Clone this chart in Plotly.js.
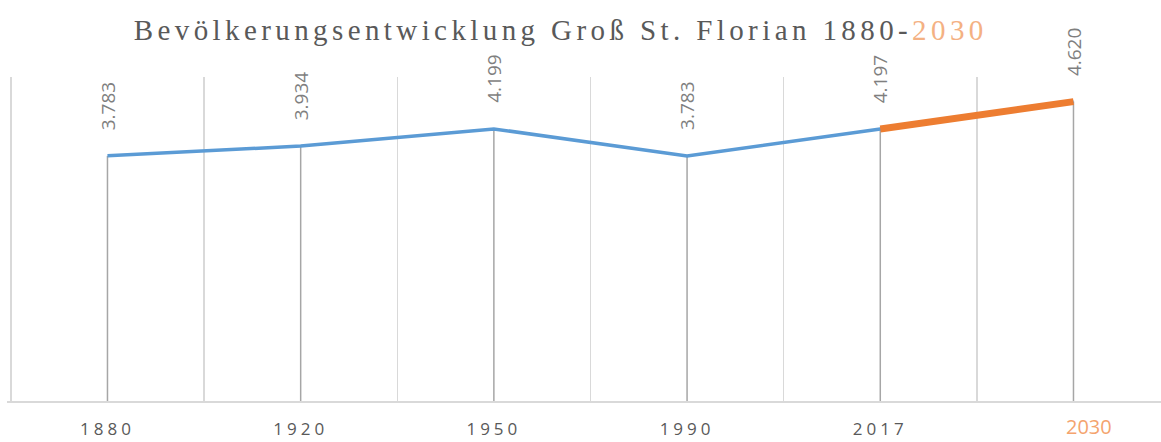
<!DOCTYPE html>
<html>
<head>
<meta charset="utf-8">
<script src="https://cdn.plot.ly/plotly-3.0.1.min.js"></script>
<style>
body{margin:0;background:#fff;}
#chart{width:1161px;height:442px;}
.gtitle{letter-spacing:4.4px;}
.xtick text{letter-spacing:4px;}
</style>
</head>
<body>
<div id="chart"></div>
<script>
const years = ['1880','1920','1950','1990','2017','2030'];
const population = [3783, 3934, 4199, 3783, 4197, 4620];
const forecastYears = ['2017','2030'];
const forecastValues = [4197, 4620];
const labels = ['3.783','3.934','4.199','3.783','4.197','4.620'];
const tickLabels = ['1880','1920','1950','1990','2017',''];

const traces = [
  {
    x: years, y: population, type:'scatter', mode:'lines',
    line:{color:'#5b9bd5', width:3.5},
    error_y:{type:'data', symmetric:false, array:population.map(()=>0), arrayminus:population, width:0, color:'#a6a6a6', thickness:1.5},
    hoverinfo:'skip', showlegend:false
  },
  {
    x: forecastYears, y: forecastValues, type:'scatter', mode:'lines',
    line:{color:'#ed7d31', width:7},
    hoverinfo:'skip', showlegend:false
  }
];

const annotations = years.map((yr,i)=>({
  x: i, y: population[i], xref:'x', yref:'y',
  text: labels[i], showarrow:false, textangle:-90,
  xanchor:'center', yanchor:'bottom', yshift:24,
  font:{family:'Open Sans', size:19, color:'#7f7f7f'}
}));
annotations.push({
  x: years.length-1, y:0, xref:'x', yref:'y', text:'2030', showarrow:false,
  xanchor:'left', yanchor:'top', xshift:-8, yshift:-11, borderpad:0,
  font:{family:'Open Sans', size:20, color:'#f4a46e'}
});

const layout = {
  width:1161, height:442,
  margin:{l:7, r:0, t:77, b:41},
  paper_bgcolor:'#ffffff', plot_bgcolor:'#ffffff',
  title:{
    text:'Bevölkerungsentwicklung Groß St. Florian 1880-<span style="color:#f4b183">2030</span>',
    font:{family:'Liberation Serif', size:29, color:'#595959'},
    x:0.483, xanchor:'center', y:1-30/442, yanchor:'middle'
  },
  xaxis:{
    type:'category', categoryorder:'array', categoryarray:years,
    tickmode:'array', tickvals:years, ticktext:tickLabels,
    range:[-0.52, 5.453], tickson:'boundaries',
    showgrid:true, gridcolor:'#d9d9d9', gridwidth:1.5,
    showline:true, linecolor:'#d9d9d9', linewidth:1.5,
    ticks:'', zeroline:false, fixedrange:true, ticklabelstandoff:12,
    tickfont:{family:'Open Sans', size:17, color:'#595959'}
  },
  yaxis:{
    range:[0,5000], showgrid:false, zeroline:false, showline:false,
    showticklabels:false, ticks:'', fixedrange:true
  },
  annotations: annotations,
  showlegend:false
};

Plotly.newPlot('chart', traces, layout, {displayModeBar:false, staticPlot:true});
</script>
</body>
</html>
